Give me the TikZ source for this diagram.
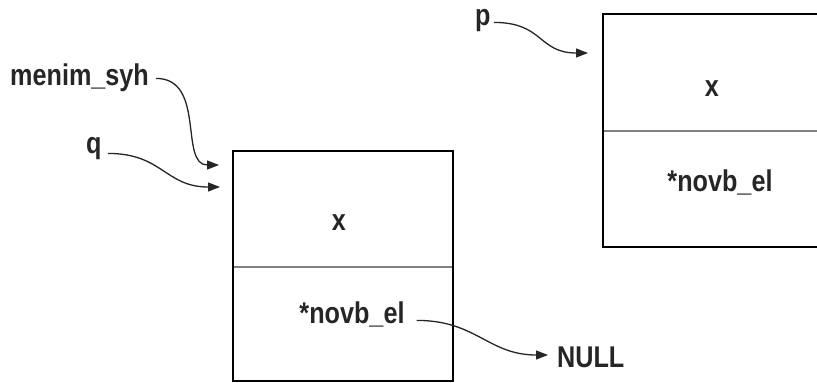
\documentclass[tikz,border=0pt]{standalone}
\usepackage{fontspec}
\setmainfont{Liberation Sans}[FakeStretch=0.84]
\usetikzlibrary{arrows.meta}
\begin{document}
\begin{tikzpicture}[x=1pt,y=-1pt,
  lbl/.style={font=\bfseries\fontsize{30}{36}\selectfont, text=black!85, inner sep=0pt, text height=0.52em, text depth=0pt},
  ptr/.style={line width=1.3pt, draw=black!85, -{Triangle[length=12pt,width=9pt]}},
  boxline/.style={line width=2.5pt, draw=black},
  divline/.style={line width=2pt, draw=black!50}]
\useasboundingbox (0,0) rectangle (817,383);
\clip (0,0) rectangle (817,383);
\fill[white] (0,0) rectangle (817,383);
% boxes
\draw[divline] (233,267) -- (453,267);
\draw[boxline] (233,151) rectangle (453,381);
\draw[divline] (603,131) -- (830,131);
\draw[boxline] (603,14) rectangle (830,247);
% labels
\node[lbl, anchor=base west] (menim) at (10,85) {menim\_syh};
\node[lbl, anchor=base west] (q) at (86,153) {q};
\node[lbl, anchor=base west] (p) at (475,25) {p};
\node[lbl, anchor=base] (x1) at (339,230) {x};
\node[lbl, anchor=base] (nb1) at (352,323) {*novb\_el};
\node[lbl, anchor=base west] (null) at (557,367) {NULL};
\node[lbl, anchor=base] (x2) at (712,96) {x};
\node[lbl, anchor=base] (nb2) at (720,191) {*novb\_el};
% arrow ends
\coordinate (tm) at (219,165);
\coordinate (tq) at (220,187);
\coordinate (tp) at (588,53);
\coordinate (tn) at (548,355);
% connectors
\draw[ptr] ([xshift=7pt,yshift=4pt]menim.east) .. controls +(50,0) and +(-40,0) .. (tm);
\draw[ptr] ([xshift=6pt,yshift=-3pt]q.east) .. controls +(55,0) and +(-55,0) .. (tq);
\draw[ptr] ([xshift=3pt]p.east) .. controls +(50,0) and +(-50,0) .. (tp);
\draw[ptr] ([xshift=12pt]nb1.east) .. controls +(60,0) and +(-60,0) .. (tn);
\end{tikzpicture}
\end{document}
